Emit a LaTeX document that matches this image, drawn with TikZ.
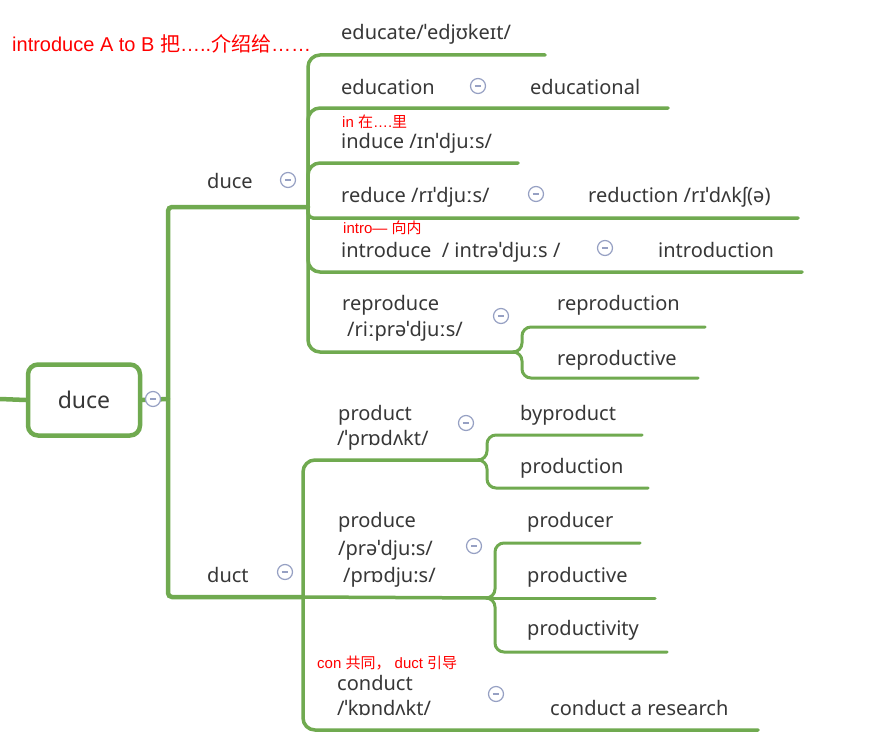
\documentclass[tikz,border=0pt]{standalone}
\usepackage{fontspec}
\setmainfont{Noto Sans}
\newfontfamily\redfont{Liberation Sans}
\newfontfamily\cjkfont{Noto Sans CJK SC}
\newcommand\zhc[1]{{\cjkfont #1}}
\definecolor{branchgreen}{RGB}{112,170,80}
\definecolor{txt}{RGB}{55,55,55}
\definecolor{iconc}{RGB}{150,160,195}
\definecolor{redtxt}{RGB}{255,0,0}
\begin{document}
\begin{tikzpicture}[x=1pt,y=-1pt,
  branch/.style={draw=branchgreen,line width=3.5pt,line cap=round,rounded corners=12pt},
  subbranch/.style={branch,line width=3pt,rounded corners=9pt},
  mainbranch/.style={branch,line width=4.5pt,rounded corners=4pt},
  word/.style={anchor=base west,inner sep=0pt,text=txt,font=\fontsize{20}{23}\selectfont},
  note/.style={anchor=base west,inner sep=0pt,text=redtxt,font=\redfont\fontsize{15}{18}\selectfont},
  rootbox/.style={draw=branchgreen,line width=4.5pt,rounded corners=10pt,fill=white,
    minimum width=112pt,minimum height=71pt,inner sep=0pt,text=txt,font=\fontsize{23}{26}\selectfont},
  toggle/.style={circle,draw=iconc,fill=white,line width=1.2pt,minimum size=15pt,inner sep=0pt,
    path picture={\draw[iconc,line width=1.6pt] ([xshift=-3.2pt]path picture bounding box.center) -- ([xshift=3.2pt]path picture bounding box.center);}}
]
\useasboundingbox[fill=white] (0,0) rectangle (886,752);

% ---------- coordinates of the branch lines ----------
\coordinate (lstub) at (0,399);
\coordinate (trk) at (168,399);
\coordinate (duceL) at (168,207);
\coordinate (ductL) at (168,597);
\coordinate (dj) at (308,207);
\coordinate (kj) at (303,597);
\coordinate (eduE) at (545,55);
\coordinate (edunE) at (668,108);
\coordinate (indE) at (518,163);
\coordinate (redE) at (798,218);
\coordinate (intE) at (802,272);
\coordinate (repJ) at (517,352);
\coordinate (repnE) at (705,327);
\coordinate (repvE) at (698,378);
\coordinate (proJ) at (480,460);
\coordinate (bypE) at (642,435);
\coordinate (prodnE) at (648,488);
\coordinate (pceJ) at (490,598);
\coordinate (pcrE) at (640,543);
\coordinate (pveE) at (655,598);
\coordinate (pvyE) at (667,652);
\coordinate (conE) at (758,730);

% ---------- root ----------
\node[rootbox] (root) at (84,400) {duce};
\draw[mainbranch] (lstub) -- (root.west);
\draw[mainbranch] (root.east) -- (trk);
\draw[mainbranch] (dj) -- (duceL) -- (ductL) -- (kj);

% ---------- duce group ----------
\draw[branch] (dj) |- (eduE);
\draw[branch] (dj) |- (edunE);
\draw[branch] (dj) |- (indE);
\draw[branch,rounded corners=5pt] (dj) |- (redE);
\draw[branch] (dj) |- (intE);
\draw[branch] (dj) |- (repJ);
\draw[subbranch] (repJ) -- ++(5,0) |- (repnE);
\draw[subbranch] (repJ) -- ++(5,0) |- (repvE);

% ---------- duct group ----------
\draw[branch] (kj) |- (proJ);
\draw[branch] (kj) -- (pceJ);
\draw[branch] (kj) |- (conE);
\draw[subbranch] (proJ) -- ++(7,0) |- (bypE);
\draw[subbranch] (proJ) -- ++(7,0) |- (prodnE);
\draw[subbranch] (pceJ) -- ++(5,0) |- (pcrE);
\draw[subbranch] (pceJ) -- (pveE);
\draw[subbranch] (pceJ) -- ++(5,0) |- (pvyE);

% ---------- toggles ----------
\node[toggle] (t0) at (153,399) {};
\node[toggle] (t1) at (288,180) {};
\node[toggle] (t2) at (285,572) {};
\node[toggle] (t3) at (478,86) {};
\node[toggle] (t4) at (536,194) {};
\node[toggle] (t5) at (605,248) {};
\node[toggle] (t6) at (501,316) {};
\node[toggle] (t7) at (466,423) {};
\node[toggle] (t8) at (474,546) {};
\node[toggle] (t9) at (496,694) {};

% ---------- texts ----------
\node[anchor=base west,inner sep=0pt,text=redtxt,font=\redfont\fontsize{20}{24}\selectfont] (title) at (12,52)
  {introduce A to B \zhc{把}…..\zhc{介绍给}……};

\node[word] (wduce) at (207,188) {duce};
\node[word] (wduct) at (207,582) {duct};

\node[word] (w1) at (341,40) {educate/ˈedjʊkeɪt/};
\node[word] (w2) at (341,95) {education};
\node[word] (w2b) at (530,95) {educational};
\node[note] (n1) at (342,127) {in \zhc{在}….\zhc{里}};
\node[word] (w3) at (341,148) {induce /ɪnˈdjuːs/};
\node[word] (w4) at (341,202) {reduce /rɪˈdjuːs/};
\node[word] (w4b) at (588,202) {reduction /rɪˈdʌkʃ(ə)};
\node[note] (n2) at (343,233) {intro— \zhc{向内}};
\node[word] (w5) at (341,257) {introduce \ / intrəˈdjuːs /};
\node[word] (w5b) at (658,257) {introduction};
\node[word] (w6) at (342,310) {reproduce};
\node[word] (w6p) at (347,336) {/riːprəˈdjuːs/};
\node[word] (w6a) at (557,310) {reproduction};
\node[word] (w6b) at (557,365) {reproductive};

\node[word] (w7) at (338,420) {product};
\node[word] (w7p) at (337,445) {/ˈprɒdʌkt/};
\node[word] (w7a) at (520,420) {byproduct};
\node[word] (w7b) at (520,473) {production};
\node[word] (w8) at (338,527) {produce};
\node[word] (w8p) at (338,555) {/prəˈdju:s/};
\node[word] (w8q) at (343,582) {/prɒdju:s/};
\node[word] (w8a) at (527,527) {producer};
\node[word] (w8b) at (527,582) {productive};
\node[word] (w8c) at (527,635) {productivity};
\node[note] (n3) at (317,668) {con \zhc{共同，} duct \zhc{引导}};
\node[word] (w9) at (337,690) {conduct};
\node[word] (w9p) at (337,715) {/ˈkɒndʌkt/};
\node[word] (w9a) at (550,715) {conduct a research};
\end{tikzpicture}
\end{document}
